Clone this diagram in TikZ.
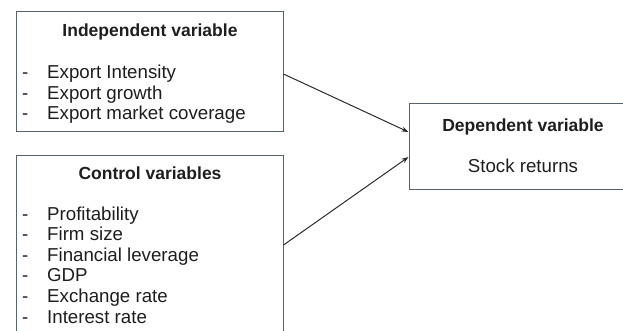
\documentclass[tikz,border=0pt]{standalone}
\usepackage{fontspec}
\setmainfont{Liberation Sans}
\usepackage{xcolor}
\usetikzlibrary{arrows.meta}
\definecolor{boxline}{HTML}{56636B}
\definecolor{txt}{HTML}{1E1E1E}
\definecolor{arrowc}{HTML}{2B2B2B}
\newcommand{\dashitem}[1]{\makebox[25pt][l]{-}#1}

\begin{document}
\begin{tikzpicture}[x=1pt,y=-1pt,
    box/.style={draw=boxline,line width=1pt,fill=white,inner sep=0pt},
    head/.style={font=\fontsize{17.5}{20}\selectfont\bfseries,text=txt,anchor=base,inner sep=0pt},
    item/.style={font=\fontsize{18.7}{20}\selectfont,text=txt,anchor=base west,inner sep=0pt},
    link/.style={-{Stealth[length=7pt,width=5pt]},line width=1pt,draw=arrowc}]
    \useasboundingbox (0,0) rectangle (623,331);
    \clip (0,0) rectangle (623,331);
    % boxes
    \node[box,minimum width=267pt,minimum height=120pt] (indep) at (149.5,72) {};
    \node[box,minimum width=267pt,minimum height=189pt] (ctrl) at (149.5,250.5) {};
    \node[box,minimum width=231pt,minimum height=85pt] (dep) at (524.5,146.5) {};
    % independent variable
    \node[head] (indephead) at (150,37) {Independent variable};
    \node[item] (e1) at (22,79) {\dashitem{Export Intensity}};
    \node[item] (e2) at (22,99.5) {\dashitem{Export growth}};
    \node[item] (e3) at (22,120) {\dashitem{Export market coverage}};
    % control variables
    \node[head] (ctrlhead) at (150,179) {Control variables};
    \node[item] (c1) at (22,220) {\dashitem{Profitability}};
    \node[item] (c2) at (22,240.6) {\dashitem{Firm size}};
    \node[item] (c3) at (22,261.2) {\dashitem{Financial leverage}};
    \node[item] (c4) at (22,281.8) {\dashitem{GDP}};
    \node[item] (c5) at (22,302.4) {\dashitem{Exchange rate}};
    \node[item] (c6) at (22,323) {\dashitem{Interest rate}};
    % dependent variable
    \node[head] (dephead) at (523,132) {Dependent variable};
    \node[item,anchor=base] (stock) at (523,172) {Stock returns};
    % arrows
    \draw[link] ([yshift=-2pt]indep.east) -- ([yshift=14.5pt]dep.west);
    \draw[link] ([yshift=5.5pt]ctrl.east) -- ([yshift=-10.5pt]dep.west);
  \end{tikzpicture}
\end{document}
